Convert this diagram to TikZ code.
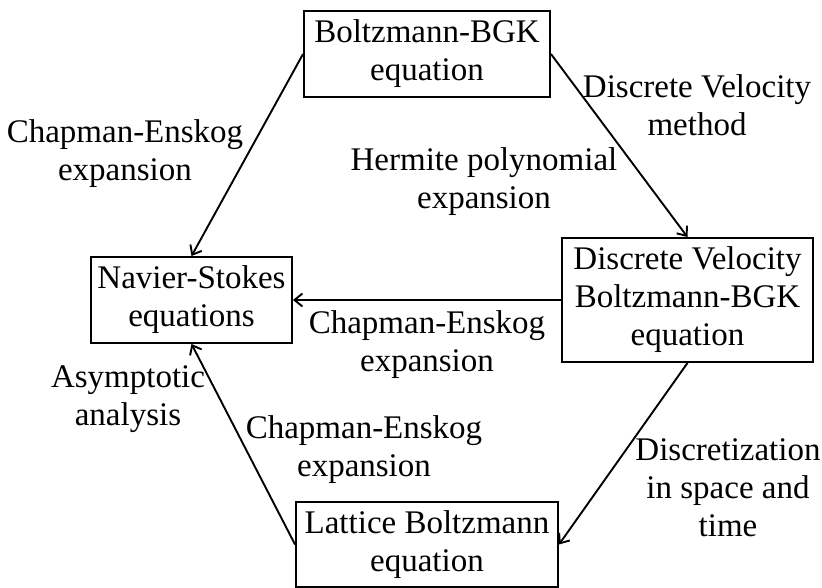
\documentclass[tikz,border=0pt]{standalone}
\usepackage{fontspec}
\setmainfont{Liberation Serif}
\usetikzlibrary{arrows.meta}
\newcommand{\taillef}{\fontsize{33}{38}\selectfont}

\begin{document}
\begin{tikzpicture}[x=1pt,y=-1pt,font=\taillef,line width=1.9pt,>={Straight Barb[length=8pt,width=13pt]}]
        \useasboundingbox (0,0) rectangle (822,588);
        \node[draw,align=center,minimum width=246pt,minimum height=86pt] (bgk) at (427,54) {Boltzmann-BGK\\ equation};
        \node[draw,align=center,minimum width=201pt,minimum height=86pt] (ns) at (191.5,300) {Navier-Stokes\\ equations};
        \node[draw,align=center,minimum width=251pt,minimum height=124pt] (dv) at (687.5,300) {Discrete Velocity\\ Boltzmann-BGK\\ equation};
        \node[draw,align=center,minimum width=262pt,minimum height=85pt] (lb) at (427,544.5) {Lattice Boltzmann\\ equation};
        \draw[->] (bgk.west) -- (ns.north);
        \node[align=center] (ce1) at (125,154) {Chapman-Enskog\\ expansion};
        \draw[->] (bgk.east) -- (dv.north);
        \node[align=center] (dvm) at (697,105) {Discrete Velocity\\ method};
        \node[align=center] (hpe) at (484,182) {Hermite polynomial\\ expansion};
        \draw[->] (dv.west) -- (ns.east);
        \node[align=center] (ce2) at (427,345) {Chapman-Enskog\\ expansion};
        \draw[->] (dv.south) -- (lb.east);
        \node[align=center] (dst) at (728,488) {Discretization\\ in space and\\ time};
        \draw[->] (lb.west) -- (ns.south);
        \node[align=center] (asy) at (128,399) {Asymptotic\\ analysis};
        \node[align=center] (ce3) at (364,450) {Chapman-Enskog\\ expansion};
      \end{tikzpicture}
\end{document}
